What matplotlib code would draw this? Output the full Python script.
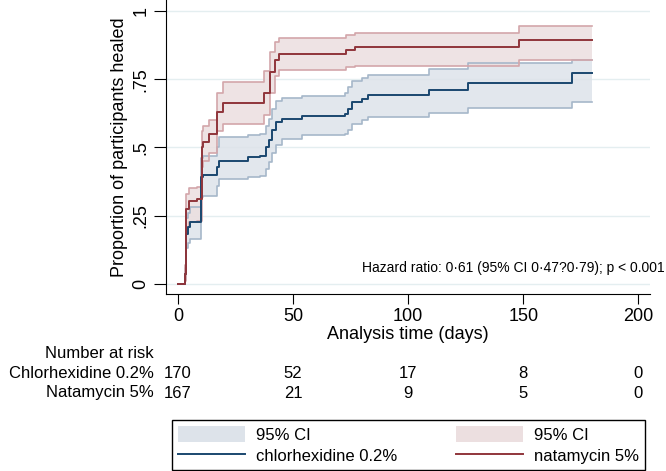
import matplotlib
matplotlib.use("Agg")
import matplotlib.pyplot as plt
import matplotlib.transforms as mtransforms
from matplotlib.patches import Patch
from matplotlib.lines import Line2D

plt.rcParams['font.family'] = ['Liberation Sans', 'DejaVu Sans']

# Kaplan-Meier steps (days, proportion healed)
chx_t = [0, 3.0, 3.4, 4.4, 5.2, 9.9, 11.0, 17.0, 18.0, 30.6, 35.7, 38.3, 39.4, 41.0, 42.4, 45.0,
         53.8, 72.6, 74.0, 75.5, 80.0, 82.4, 109, 126, 171, 180]
chx_s = [0, 0.035, 0.183, 0.207, 0.225, 0.39, 0.40, 0.428, 0.452, 0.465, 0.47, 0.50, 0.526, 0.5625,
         0.593, 0.605, 0.614, 0.624, 0.642, 0.667, 0.679, 0.691, 0.712, 0.736, 0.771, 0.771]
chx_lo = [0, 0.015, 0.13, 0.15, 0.165, 0.32, 0.323, 0.36, 0.385, 0.39, 0.397, 0.42, 0.445, 0.48,
          0.51, 0.53, 0.545, 0.55, 0.565, 0.585, 0.60, 0.611, 0.627, 0.646, 0.667, 0.667]
chx_hi = [0, 0.06, 0.24, 0.26, 0.28, 0.46, 0.47, 0.50, 0.538, 0.545, 0.55, 0.58, 0.605, 0.64,
          0.67, 0.68, 0.69, 0.70, 0.72, 0.745, 0.755, 0.765, 0.789, 0.808, 0.82, 0.82]

nat_t = [0, 3.0, 3.4, 5.0, 8.3, 10.3, 11.0, 13.5, 17.0, 19.6, 37.4, 40.0, 42.0, 44.0, 73.0, 77.0, 148, 180]
nat_s = [0, 0.035, 0.275, 0.305, 0.31, 0.50, 0.52, 0.55, 0.63, 0.663, 0.70, 0.777, 0.82, 0.844,
         0.857, 0.869, 0.893, 0.893]
nat_lo = [0, 0.01, 0.21, 0.225, 0.23, 0.43, 0.45, 0.48, 0.56, 0.587, 0.62, 0.70, 0.76, 0.783,
          0.795, 0.80, 0.822, 0.822]
nat_hi = [0, 0.07, 0.33, 0.35, 0.355, 0.56, 0.58, 0.60, 0.70, 0.74, 0.78, 0.85, 0.885, 0.90,
          0.912, 0.918, 0.945, 0.945]

# number at risk table
risk_times = [0, 50, 100, 150, 200]
risk_chx = [170, 52, 17, 8, 0]
risk_nat = [167, 21, 9, 5, 0]

x_ticks = [0, 50, 100, 150, 200]
y_ticks = [0, 0.25, 0.5, 0.75, 1]
y_labels = ['0', '.25', '.5', '.75', '1']

blue = '#1a476f'
red = '#90353b'
blue_fill = '#dde3ea'
blue_edge = '#a6b7ca'
red_fill = '#ecdfe0'
red_edge = '#d3a6aa'
fs = 12

W, H = 666, 471
fig = plt.figure(figsize=(W / 100, H / 100), dpi=100)
ax = fig.add_axes([166 / W, 1 - 294 / H, (650 - 166) / W, 294 / H])

for t, lo, hi, fc, ec in [(chx_t, chx_lo, chx_hi, blue_fill, blue_edge),
                          (nat_t, nat_lo, nat_hi, red_fill, red_edge)]:
    ax.fill_between(t, lo, hi, step='post', color=fc, alpha=0.85, lw=0)
    ax.step(t, lo, where='post', color=ec, lw=1.2)
    ax.step(t, hi, where='post', color=ec, lw=1.2)

ax.step(chx_t, chx_s, where='post', color=blue, lw=1.4)
ax.step(nat_t, nat_s, where='post', color=red, lw=1.4)

ax.set_xlim(-5.2, 205)
ax.set_ylim(-0.037, 1.04)
ax.set_xticks(x_ticks)
ax.set_yticks(y_ticks)
ax.set_yticklabels(y_labels, rotation=90, va='center')
ax.tick_params(axis='both', labelsize=fs + 1, direction='out', color='black')
ax.tick_params(axis='x', length=7, pad=3)
ax.tick_params(axis='y', length=9, pad=3)
ax.grid(axis='y', color='#e4eef0', lw=1)
ax.set_axisbelow(True)
for side in ['top', 'right']:
    ax.spines[side].set_visible(False)
ax.set_xlabel('Analysis time (days)', fontsize=fs + 1, labelpad=1)
ax.set_ylabel('Proportion of participants healed', fontsize=fs + 1)
ax.yaxis.set_label_coords((128 - 166) / 484, 0.5)

ax.text(665 / W, 1 - 268 / H, 'Hazard ratio: 0·61 (95% CI 0·47?0·79); p < 0.001',
        transform=fig.transFigure, ha='right', va='center', fontsize=10)

# number at risk rows
trans = mtransforms.blended_transform_factory(ax.transData, fig.transFigure)
fig.text(154 / W, 1 - 353 / H, 'Number at risk', ha='right', va='center', fontsize=fs)
fig.text(154 / W, 1 - 373 / H, 'Chlorhexidine 0.2%', ha='right', va='center', fontsize=fs)
fig.text(154 / W, 1 - 393 / H, 'Natamycin 5%', ha='right', va='center', fontsize=fs)
for tt, a, b in zip(risk_times, risk_chx, risk_nat):
    ax.text(tt, 1 - 373 / H, str(a), transform=trans, ha='center', va='center', fontsize=fs)
    ax.text(tt, 1 - 393 / H, str(b), transform=trans, ha='center', va='center', fontsize=fs)

handles = [Patch(facecolor=blue_fill, edgecolor='none', label='95% CI'),
           Line2D([], [], color=blue, lw=1.4, label='chlorhexidine 0.2%'),
           Patch(facecolor=red_fill, edgecolor='none', label='95% CI'),
           Line2D([], [], color=red, lw=1.4, label='natamycin 5%')]
leg = fig.legend(handles=handles, ncol=2, loc='lower left', mode='expand',
                 bbox_to_anchor=(172 / W, 1 - 470 / H, 473 / W, 57 / H), fontsize=fs,
                 fancybox=False, edgecolor='black', framealpha=1,
                 handlelength=4.0, handleheight=1.1, handletextpad=0.7,
                 labelspacing=0.3, borderpad=0.35, borderaxespad=0)
leg.get_frame().set_linewidth(1.0)

fig.savefig('out.png', dpi=100)
